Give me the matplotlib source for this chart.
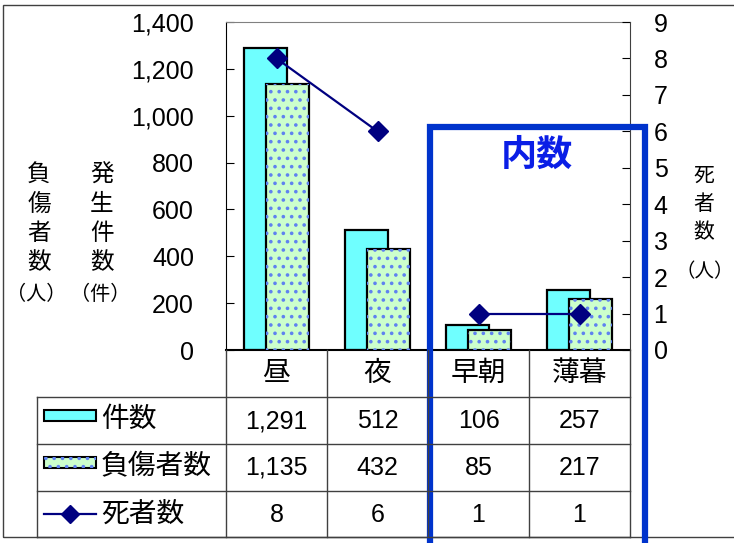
import numpy as np
import matplotlib
matplotlib.use('Agg')
import matplotlib.pyplot as plt
import matplotlib.transforms as mtransforms
from matplotlib import font_manager
from matplotlib.patches import Rectangle
from matplotlib.lines import Line2D
from matplotlib.ticker import FuncFormatter

plt.rcParams['font.family'] = ['Liberation Sans', 'Noto Sans CJK JP']
plt.rcParams['hatch.linewidth'] = 1.4

# data
categories = ['昼', '夜', '早朝', '薄暮']
cases = [1291, 512, 106, 257]
injured = [1135, 432, 85, 217]
deaths = [8, 6, 1, 1]
series_names = ['件数', '負傷者数', '死者数']

# narrow digits for the table if the font is there
names = {f.name for f in font_manager.fontManager.ttflist}
num_font = 'Liberation Sans Narrow' if 'Liberation Sans Narrow' in names else 'Liberation Sans'
num_size = 21 if num_font == 'Liberation Sans Narrow' else 18

W, H = 734, 543
fig = plt.figure(figsize=(W / 100, H / 100), dpi=100)

# pixel -> figure fraction
def fx(px):
    return px / W

def fy(py):
    return 1 - py / H

ax = fig.add_axes([fx(226), fy(350), fx(630) - fx(226), fy(22) - fy(350)])
ax2 = ax.twinx()
x = np.arange(len(categories))

cyan = '#6FFFFF'
green = '#CCFFCC'
dotc = '#5F82F0'
navy = '#000080'

ax.bar(x - 0.105, cases, 0.425, color=cyan, edgecolor='black', linewidth=1.6, zorder=2)
ax.bar(x + 0.105, injured, 0.425, color=green, edgecolor='black', linewidth=1.6, zorder=3)
ax.bar(x + 0.105, injured, 0.425, color='none', edgecolor=dotc, linewidth=0, hatch='..', zorder=4)

# death line is broken between 夜 and 早朝
ax2.plot(x[:2], deaths[:2], color=navy, lw=1.6, marker='D', ms=10)
ax2.plot(x[2:], deaths[2:], color=navy, lw=1.6, marker='D', ms=10)

ax.set_xlim(-0.5, 3.5)
ax.set_ylim(0, 1400)
ax.set_yticks(range(0, 1401, 200))
ax.yaxis.set_major_formatter(FuncFormatter(lambda v, p: f'{int(v):,}'))
ax2.set_ylim(0, 9)
ax2.set_yticks(range(0, 10))
ax.set_xticks([])

ax.tick_params(axis='y', direction='in', length=6, labelsize=18, pad=23)
ax2.tick_params(axis='y', direction='in', length=6, labelsize=18, pad=17)
for s in ['left', 'top', 'bottom']:
    ax2.spines[s].set_visible(False)
ax.spines['right'].set_visible(False)
ax.spines['top'].set_color('#808080')
ax2.spines['right'].set_color('#404040')
ax.spines['bottom'].set_linewidth(1.5)

# data table under the chart
trans = mtransforms.blended_transform_factory(ax.transData, fig.transFigure)
line_c = '#404040'
for b in np.arange(-0.5, len(categories), 1.0):
    fig.add_artist(Line2D([b, b], [fy(350), fy(537)], transform=trans, color=line_c, lw=1))
for yy in [397, 444, 491, 537]:
    fig.add_artist(Line2D([fx(37), fx(630)], [fy(yy), fy(yy)], transform=fig.transFigure,
                          color=line_c, lw=1))
fig.add_artist(Line2D([fx(37), fx(37)], [fy(397), fy(537)], transform=fig.transFigure,
                      color=line_c, lw=1))

for i, c in enumerate(categories):
    ax.text(i, fy(374), c, transform=trans, ha='center', va='center', fontsize=20, clip_on=False)
    for vals, yy in [(cases, 421), (injured, 468), (deaths, 515)]:
        ax.text(i, fy(yy), f'{vals[i]:,}', transform=trans, ha='center', va='center',
                fontsize=num_size, family=num_font, clip_on=False)

# legend keys in table
fig.add_artist(Rectangle((fx(44), fy(421)), fx(96) - fx(44), fy(410) - fy(421),
                         transform=fig.transFigure, fc=cyan, ec='black', lw=1.5))
fig.add_artist(Rectangle((fx(44), fy(468)), fx(96) - fx(44), fy(457) - fy(468),
                         transform=fig.transFigure, fc=green, ec='black', lw=1.5))
fig.add_artist(Rectangle((fx(44), fy(468)), fx(96) - fx(44), fy(457) - fy(468),
                         transform=fig.transFigure, fc='none', ec=dotc, lw=0, hatch='..'))
fig.add_artist(Line2D([fx(44), fx(96)], [fy(514), fy(514)], transform=fig.transFigure,
                      color=navy, lw=1.6))
fig.add_artist(Line2D([fx(70)], [fy(514)], transform=fig.transFigure, color=navy,
                      marker='D', ms=9))
for name, yy in zip(series_names, [420, 467, 515]):
    fig.text(fx(101), fy(yy), name, ha='left', va='center', fontsize=20)

# axis titles (vertical)
for k, ch in enumerate('負傷者数'):
    fig.text(fx(39), fy(176 + 29 * k), ch, ha='center', va='center', fontsize=17)
for k, ch in enumerate('発生件数'):
    fig.text(fx(102), fy(176 + 29 * k), ch, ha='center', va='center', fontsize=17)
fig.text(fx(36), fy(294), '（人）', ha='center', va='center', fontsize=14.5)
fig.text(fx(100), fy(294), '（件）', ha='center', va='center', fontsize=14.5)
for k, ch in enumerate('死者数'):
    fig.text(fx(704), fy(176 + 28 * k), ch, ha='center', va='center', fontsize=15)
fig.text(fx(705), fy(272), '（人）', ha='center', va='center', fontsize=14)

# outer frame
fig.add_artist(Rectangle((fx(3), fy(537)), fx(800) - fx(3), fy(5) - fy(537),
                         transform=fig.transFigure, fill=False, ec='#404040', lw=1))

# highlight box
fig.add_artist(Rectangle((fx(430), fy(600)), fx(645) - fx(430), fy(127) - fy(600),
                         transform=fig.transFigure, fill=False, ec='#0033CC', lw=4.5))
fig.text(fx(537), fy(155), '内数', ha='center', va='center', fontsize=26, weight='bold',
         color='#0A1EE6', family=['Noto Sans CJK JP'])

fig.savefig('out.png', dpi=100)
